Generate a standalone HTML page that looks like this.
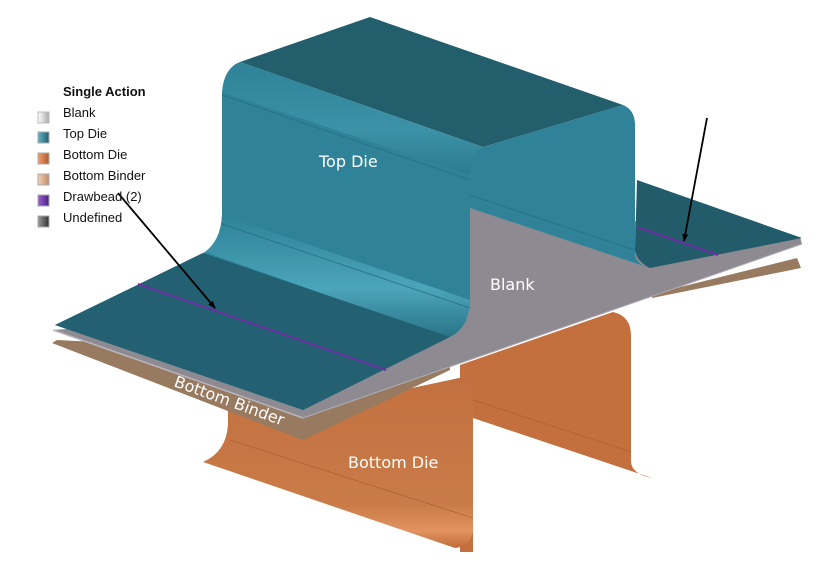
<!DOCTYPE html>
<html><head><style>
html,body{margin:0;padding:0;background:#fff;}
svg{display:block;}
.lg{font-family:"Liberation Sans",Arial,sans-serif;font-size:13px;fill:#111;}
.lb{font-family:"DejaVu Sans","Liberation Sans",sans-serif;font-size:16px;fill:#fff;}
</style></head><body>
<svg width="819" height="562" viewBox="0 0 819 562" xmlns="http://www.w3.org/2000/svg">
<defs>
<linearGradient id="fil" x1="0" y1="0" x2="0" y2="1">
<stop offset="0" stop-color="#2e8298"/><stop offset="0.6" stop-color="#4ba5ba"/><stop offset="1" stop-color="#2a7286"/>
</linearGradient>
<linearGradient id="or" x1="0" y1="0" x2="0" y2="1">
<stop offset="0" stop-color="#c2703f"/><stop offset="0.75" stop-color="#c97b48"/><stop offset="0.9" stop-color="#e2935f"/><stop offset="1" stop-color="#c06c3c"/>
</linearGradient>
<linearGradient id="sw1" x1="0" x2="1"><stop offset="0" stop-color="#fff"/><stop offset="1" stop-color="#aaa"/></linearGradient>
<linearGradient id="sw2" x1="0" x2="1"><stop offset="0" stop-color="#5fb4c8"/><stop offset="1" stop-color="#1f5f70"/></linearGradient>
<linearGradient id="sw3" x1="0" x2="1"><stop offset="0" stop-color="#f0a070"/><stop offset="1" stop-color="#b05a2a"/></linearGradient>
<linearGradient id="sw4" x1="0" x2="1"><stop offset="0" stop-color="#f3d0b4"/><stop offset="1" stop-color="#c08e6a"/></linearGradient>
<linearGradient id="sw5" x1="0" x2="1"><stop offset="0" stop-color="#9a60d0"/><stop offset="1" stop-color="#4a1f80"/></linearGradient>
<linearGradient id="sw6" x1="0" x2="1"><stop offset="0" stop-color="#999"/><stop offset="1" stop-color="#333"/></linearGradient>
<marker id="ah" markerWidth="8" markerHeight="8" refX="7" refY="4" orient="auto" markerUnits="userSpaceOnUse"><path d="M0,1 L8,4 L0,7 Z" fill="#000"/></marker>
</defs>

<path d="M460,365 L613,312 Q631,316 631,336 L631,462 Q632,474 652,478 L473,418 L473,552 L460,552 Z" fill="#c4703e"/>
<line x1="473" y1="400" x2="631" y2="452" stroke="#a85a30" stroke-width="0.6"/>

<path d="M652,298 L801,268 L797,258 L652,294 Z" fill="#977a5f"/>

<path d="M228,405 L300,412 L473,375 L473,532 Q470,546 455,548 L203,462 Q226,452 228,425 Z" fill="url(#or)"/>
<path d="M52,343 L303,440 L450,370 L450,360 L57,340 Z" fill="#977a5f"/>
<line x1="230" y1="440" x2="473" y2="518" stroke="#a85a30" stroke-width="0.6"/>

<path d="M53,330 L303,418 L802,244 L800,237 L470,205 L470,300 Z" fill="#8e8a92"/>
<line x1="53" y1="330" x2="303" y2="418" stroke="#b8b5bc" stroke-width="1.5"/>
<line x1="303" y1="418" x2="802" y2="244" stroke="#b0adb5" stroke-width="1"/>

<path d="M637,180 L802,238 L650,268 Q637,262 635,250 Z" fill="#225c6b"/>
<line x1="637" y1="227" x2="718" y2="255" stroke="#6a2fa0" stroke-width="2"/>

<path d="M465,205 L465,158 L483,147 L623,105 Q635,110 635,125 L635,255 Q637,265 650,268 L470,208 Z" fill="#2f8298"/>
<line x1="470" y1="195" x2="635" y2="250" stroke="#286f82" stroke-width="0.8"/>

<path d="M240,62 L370,17 L623,105 L483,147 Z" fill="#235e6d"/>

<path d="M55,325 L205,252 Q221,240 222,215 L222,92 Q224,68 240,62 L483,147 Q470,155 470,175 L470,300 Q469,330 447,338 L303,410 Z" fill="#2f8298"/>
<path d="M222,92 Q224,68 240,62 L483,147 Q470,155 470,175 Z" fill="url(#fil)" opacity="0.45"/>
<line x1="222" y1="95" x2="470" y2="180" stroke="#286f82" stroke-width="0.8"/>
<path d="M205,252 Q221,240 222,215 L470,300 Q469,330 447,338 Z" fill="url(#fil)"/>
<line x1="222" y1="224" x2="470" y2="308" stroke="#286f82" stroke-width="0.8"/>
<path d="M55,325 L203,253 L450,337 L303,410 Z" fill="#236172"/>
<line x1="138" y1="284" x2="386" y2="370" stroke="#6a2fa0" stroke-width="2"/>

<text class="lb" x="319" y="167">Top Die</text>
<text class="lb" x="490" y="290">Blank</text>
<text class="lb" x="348" y="468">Bottom Die</text>
<text class="lb" x="173" y="386" font-size="15" transform="rotate(20 173 386)">Bottom Binder</text>

<line x1="118" y1="193" x2="215" y2="308" stroke="#000" stroke-width="1.8" marker-end="url(#ah)"/>
<line x1="707" y1="118" x2="684" y2="241" stroke="#000" stroke-width="1.8" marker-end="url(#ah)"/>

<text class="lg" x="63" y="96" font-weight="bold">Single Action</text>
<rect x="38" y="112" width="11" height="11" fill="url(#sw1)" stroke="#bbb"/>
<text class="lg" x="63" y="117">Blank</text>
<rect x="38" y="132" width="11" height="11" fill="url(#sw2)" stroke="#aaa"/>
<text class="lg" x="63" y="138">Top Die</text>
<rect x="38" y="153" width="11" height="11" fill="url(#sw3)" stroke="#aaa"/>
<text class="lg" x="63" y="159">Bottom Die</text>
<rect x="38" y="174" width="11" height="11" fill="url(#sw4)" stroke="#aaa"/>
<text class="lg" x="63" y="180">Bottom Binder</text>
<rect x="38" y="195" width="11" height="11" fill="url(#sw5)" stroke="#aaa"/>
<text class="lg" x="63" y="201">Drawbead (2)</text>
<rect x="38" y="216" width="11" height="11" fill="url(#sw6)" stroke="#aaa"/>
<text class="lg" x="63" y="222">Undefined</text>
</svg>
</body></html>
